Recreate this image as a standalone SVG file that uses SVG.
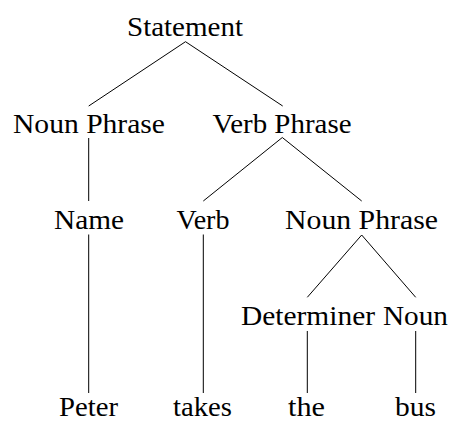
<svg xmlns="http://www.w3.org/2000/svg" width="451" height="421" viewBox="0 0 451 421">
  <style>
    .lbl { font-family: "Liberation Serif", "Times New Roman", serif; font-size: 28px; fill: #000; text-anchor: middle; }
    .leaf { font-size: 27px; }
    .edge { stroke: #000; stroke-width: 1; fill: none; stroke-linecap: butt; }
  </style>
  <rect width="451" height="421" fill="#fff"/>

  <!-- tree edges -->
  <g id="connectors">
    <path class="edge" d="M88.7,106 L185.5,41.7 L282.7,106"/>
    <path class="edge" d="M88.7,138 L88.7,201"/>
    <path class="edge" d="M203.3,201 L282.3,137.5 L361.7,201"/>
    <path class="edge" d="M88.7,234.5 L88.7,393"/>
    <path class="edge" d="M203.3,234.5 L203.3,393"/>
    <path class="edge" d="M307.3,297.3 L361.7,235 L415.7,297.3"/>
    <path class="edge" d="M307.3,331 L307.3,393"/>
    <path class="edge" d="M415.7,331 L415.7,393"/>
  </g>

  <!-- level 0 -->
  <g id="statement"><text class="lbl" x="185" y="36" textLength="116" lengthAdjust="spacingAndGlyphs">Statement</text></g>

  <!-- level 1 -->
  <g id="noun-phrase-1"><text class="lbl" x="89" y="133" textLength="152" lengthAdjust="spacingAndGlyphs">Noun Phrase</text></g>
  <g id="verb-phrase"><text class="lbl" x="282" y="133" textLength="139" lengthAdjust="spacingAndGlyphs">Verb Phrase</text></g>

  <!-- level 2 -->
  <g id="name"><text class="lbl" x="89" y="229" textLength="70" lengthAdjust="spacingAndGlyphs">Name</text></g>
  <g id="verb"><text class="lbl" x="203" y="229" textLength="53" lengthAdjust="spacingAndGlyphs">Verb</text></g>
  <g id="noun-phrase-2"><text class="lbl" x="361.5" y="229" textLength="153" lengthAdjust="spacingAndGlyphs">Noun Phrase</text></g>

  <!-- level 3 -->
  <g id="determiner"><text class="lbl" x="308" y="325" textLength="134" lengthAdjust="spacingAndGlyphs">Determiner</text></g>
  <g id="noun"><text class="lbl" x="415.5" y="325" textLength="65" lengthAdjust="spacingAndGlyphs">Noun</text></g>

  <!-- leaves -->
  <g id="peter"><text class="lbl leaf" x="88.5" y="416" textLength="59" lengthAdjust="spacingAndGlyphs">Peter</text></g>
  <g id="takes"><text class="lbl leaf" x="202.5" y="416" textLength="59" lengthAdjust="spacingAndGlyphs">takes</text></g>
  <g id="the"><text class="lbl leaf" x="306.5" y="416" textLength="37" lengthAdjust="spacingAndGlyphs">the</text></g>
  <g id="bus"><text class="lbl leaf" x="415.5" y="416" textLength="41" lengthAdjust="spacingAndGlyphs">bus</text></g>
</svg>
